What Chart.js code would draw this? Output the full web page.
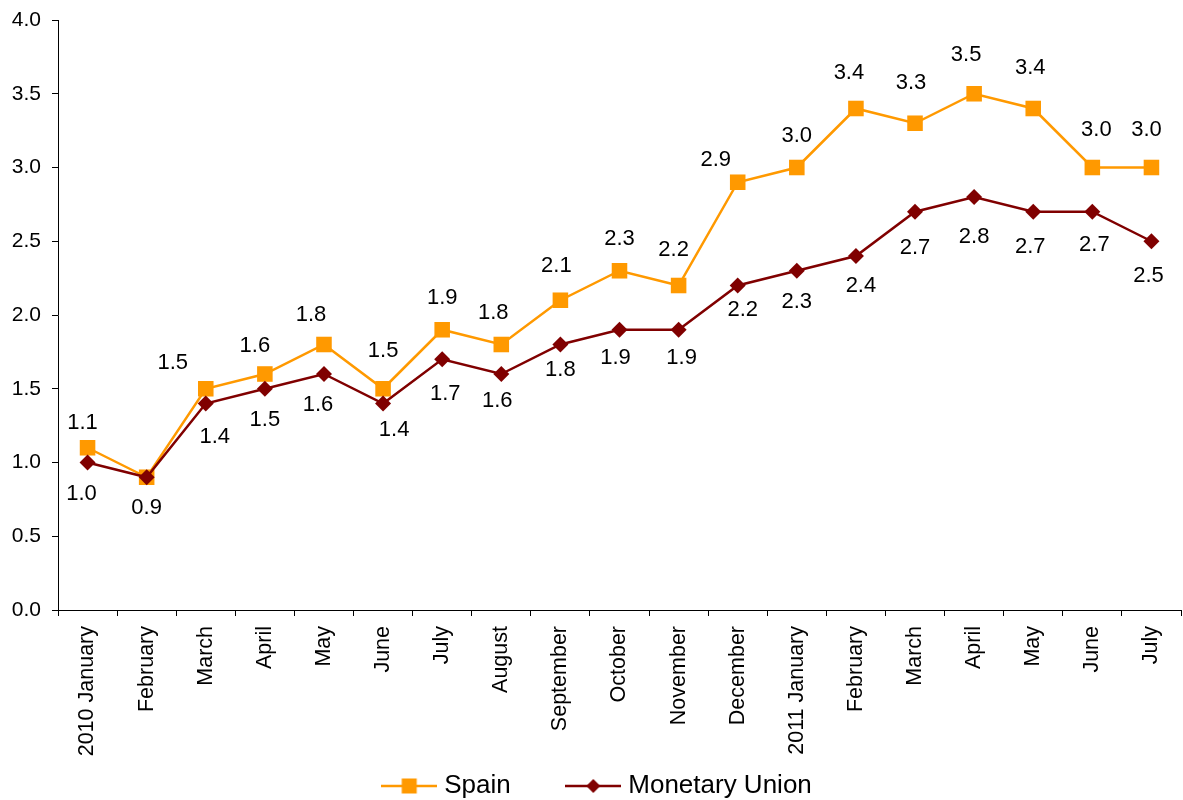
<!DOCTYPE html>
<html>
<head>
<meta charset="utf-8">
<script src="https://cdn.jsdelivr.net/npm/chart.js@4.4.1/dist/chart.umd.min.js"></script>
<style>
  html, body { margin: 0; padding: 0; background: #fff; }
  #wrap { width: 1183px; height: 800px; }
</style>
</head>
<body>
<div id="wrap"><canvas id="cpiChart"></canvas></div>
<script>
// Data (annual rate, %)
const months = ['2010 January', 'February', 'March', 'April', 'May', 'June', 'July', 'August',
  'September', 'October', 'November', 'December', '2011 January', 'February', 'March', 'April',
  'May', 'June', 'July'];
const spain = [1.1, 0.9, 1.5, 1.6, 1.8, 1.5, 1.9, 1.8, 2.1, 2.3, 2.2, 2.9, 3.0, 3.4, 3.3, 3.5, 3.4, 3.0, 3.0];
const monetaryUnion = [1.0, 0.9, 1.4, 1.5, 1.6, 1.4, 1.7, 1.6, 1.8, 1.9, 1.9, 2.2, 2.3, 2.4, 2.7, 2.8, 2.7, 2.7, 2.5];
const seriesNames = ['Spain', 'Monetary Union'];
const yMin = 0, yMax = 4, yStep = 0.5;

const FONT = "'Liberation Sans', Arial, sans-serif";
const ORANGE = '#ff9900';
const MAROON = '#800000';

// small line + marker image for the legend entries
function swatch(color, shape) {
    const c = document.createElement('canvas');
    c.width = 56; c.height = 20;
    const g = c.getContext('2d');
    g.strokeStyle = color;
    g.lineWidth = 2.5;
    g.beginPath(); g.moveTo(0, 10); g.lineTo(56, 10); g.stroke();
    g.fillStyle = color;
    if (shape === 'square') {
        g.fillRect(20.5, 2.5, 15, 15);
    } else {
        g.beginPath();
        g.moveTo(28, 3); g.lineTo(35, 10); g.lineTo(28, 17); g.lineTo(21, 10);
        g.closePath(); g.fill();
    }
    return c;
}

// value labels next to the points
const pointLabels = {
    id: 'pointLabels',
    afterLayout(chart) {
        // legend sits a little right of centre in the original
        chart.legend.left += 18;
    },
    afterDatasetsDraw(chart, args, opts) {
        const ctx = chart.ctx;
        ctx.save();
        ctx.font = `22px ${FONT}`;
        ctx.fillStyle = '#000';
        ctx.textAlign = 'center';
        ctx.textBaseline = 'middle';
        chart.data.datasets.forEach((ds, di) => {
            const cfg = opts.series[di];
            chart.getDatasetMeta(di).data.forEach((pt, i) => {
                if (cfg.hide.includes(i)) return;
                const n = cfg.nudge[i] || [0, 0];
                ctx.fillText(ds.data[i].toFixed(1), pt.x + n[0], pt.y + cfg.dy + n[1]);
            });
        });
        ctx.restore();
    }
};

const ctx = document.getElementById('cpiChart').getContext('2d');
const chart = new Chart(ctx, {
    type: 'line',
    data: {
        labels: months,
        datasets: [
            { label: seriesNames[0], data: spain, order: 1, borderColor: ORANGE, backgroundColor: ORANGE,
              borderWidth: 2.5, pointStyle: 'rect', pointRadius: 11, pointBorderWidth: 0, tension: 0 },
            { label: seriesNames[1], data: monetaryUnion, order: 0, borderColor: MAROON, backgroundColor: MAROON,
              borderWidth: 2.5, pointStyle: 'rectRot', pointRadius: 8, pointBorderWidth: 0, tension: 0 }
        ]
    },
    options: {
        responsive: true,
        maintainAspectRatio: false,
        animation: false,
        layout: { autoPadding: false, padding: { top: 20, right: 2, left: 0, bottom: -9 } },
        scales: {
            x: {
                offset: true,
                grid: { offset: true, drawOnChartArea: false, drawTicks: true, tickLength: 6, color: '#000' },
                border: { color: '#000', width: 1 },
                ticks: { color: '#000', font: { family: FONT, size: 21.5 }, minRotation: 90, maxRotation: 90, padding: 10, autoSkip: false },
                afterFit(s) { s.height = 153; s.paddingRight = 0; s.paddingLeft = 0; }
            },
            y: {
                min: yMin, max: yMax,
                grid: { drawOnChartArea: false, drawTicks: true, tickLength: 6, color: '#000' },
                border: { color: '#000', width: 1 },
                ticks: { stepSize: yStep, color: '#000', font: { family: FONT, size: 21 }, padding: 11,
                         callback: v => v.toFixed(1) },
                afterFit(s) { s.width = 58; s.paddingTop = 0; s.paddingBottom = 0; }
            }
        },
        plugins: {
            tooltip: { enabled: false },
            legend: {
                position: 'bottom',
                labels: {
                    color: '#000',
                    font: { family: FONT, size: 26 },
                    usePointStyle: true,
                    pointStyleWidth: 44,
                    padding: 10,
                    generateLabels: (c) => [
                        { text: seriesNames[0] + '       ', pointStyle: swatch(ORANGE, 'square'), datasetIndex: 0,
                          fillStyle: ORANGE, strokeStyle: ORANGE, lineWidth: 0, fontColor: '#000' },
                        { text: seriesNames[1], pointStyle: swatch(MAROON, 'diamond'), datasetIndex: 1,
                          fillStyle: MAROON, strokeStyle: MAROON, lineWidth: 0, fontColor: '#000' }
                    ]
                }
            },
            pointLabels: {
                series: [
                    { dy: -32, hide: [1], nudge: { 0: [-5, 7], 2: [-33, 6], 3: [-10, 4], 4: [-13, 2], 5: [0, -6],
                        7: [-8, 0], 8: [-4, -2], 10: [-5, -4], 11: [-22, 10], 13: [-7, -4], 14: [-4, -8],
                        15: [-8, -7], 16: [-3, -9], 17: [4, -6], 18: [-5, -6] } },
                    { dy: 31, hide: [], nudge: { 0: [-6, 0], 2: [9, 2], 4: [-6, 0], 5: [11, -5], 6: [3, 4],
                        7: [-4, -4], 8: [0, -6], 9: [-4, -3], 10: [3, -3], 11: [5, -7], 13: [5, -1],
                        14: [0, 5], 15: [0, 9], 16: [-3, 4], 17: [2, 2], 18: [-3, 4] } }
                ]
            }
        }
    },
    plugins: [pointLabels]
});
</script>
</body>
</html>
